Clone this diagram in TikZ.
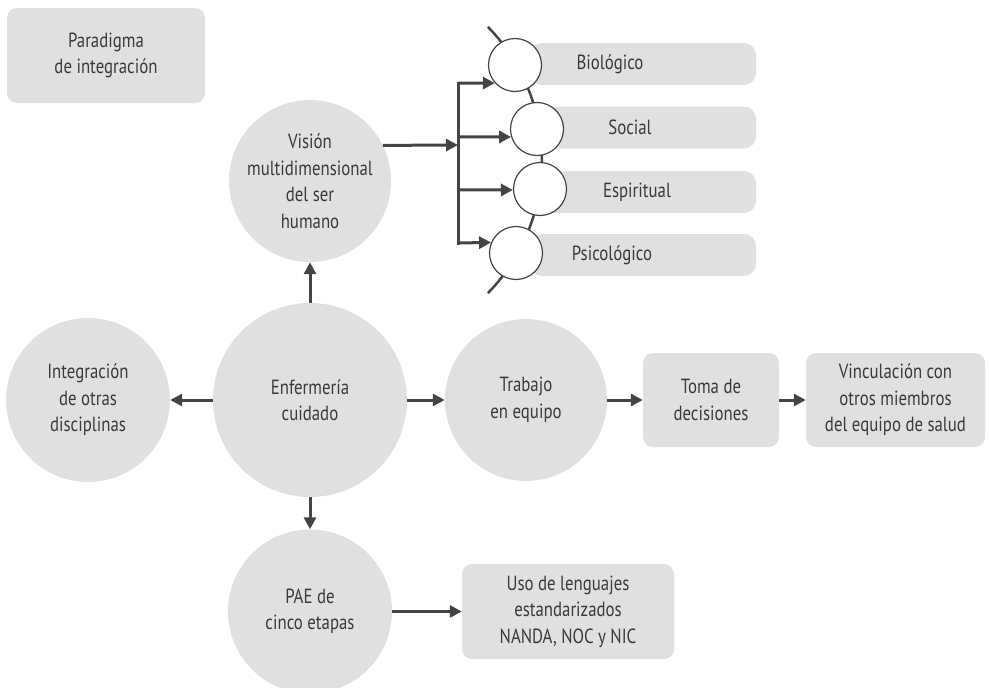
\documentclass[tikz,border=0pt]{standalone}
\usepackage{fontspec}
\setmainfont{PT Sans}[FakeStretch=0.82]
\usetikzlibrary{arrows.meta}
\definecolor{fillg}{HTML}{E0E0E0}
\definecolor{txt}{HTML}{3A3A3A}
\definecolor{arr}{HTML}{444444}
\begin{document}
\begin{tikzpicture}[x=1pt,y=-1pt,
  every node/.style={font=\fontsize{20.5}{26.5}\selectfont, text=txt, align=center},
  bubble/.style={circle, fill=fillg, inner sep=0pt},
  box/.style={rectangle, rounded corners=10pt, fill=fillg, inner sep=0pt},
  strip/.style={rectangle, rounded corners=12pt, fill=fillg, minimum width=226pt, minimum height=42pt, inner sep=0pt},
  ink/.style={draw=arr, line width=3pt, -{Triangle[length=12pt,width=12pt]}},
  bar/.style={draw=arr, line width=3pt, line cap=rect},
  ring/.style={circle, draw=arr, line width=1.2pt, fill=white, minimum size=53pt, inner sep=0pt},
  ]
\useasboundingbox (0,0) rectangle (989,688);

% main nodes
\node[box, minimum width=198pt, minimum height=95pt] (parad) at (106,55.5) {Paradigma\\de integración};
\node[bubble, minimum size=162pt] (vision) at (310,181) {Visión\\multidimensional\\del ser\\humano};
\node[bubble, minimum size=194pt] (enf) at (310,400) {Enfermería\\cuidado};
\node[bubble, minimum size=164pt] (integ) at (88,400) {Integración\\de otras\\disciplinas};
\node[bubble, minimum size=162pt] (trab) at (526,400) {Trabajo\\en equipo};
\node[box, minimum width=136pt, minimum height=94pt] (toma) at (711,400) {Toma de\\decisiones};
\node[box, minimum width=179pt, minimum height=94pt] (vinc) at (895.5,400) {Vinculación con\\otros miembros\\del equipo de salud};
\node[bubble, minimum size=164pt] (pae) at (310,611.5) {PAE de\\cinco etapas};
\node[box, minimum width=212pt, minimum height=95pt] (uso) at (568,611.5) {Uso de lenguajes\\estandarizados\\NANDA, NOC y NIC};

% dimension strips
\node[strip] (sbio) at (643,64) {};
\node[strip] (ssoc) at (643,127.5) {};
\node[strip] (sesp) at (643,192) {};
\node[strip] (spsi) at (643,255) {};

% arc behind the rings
\draw[draw=arr, line width=2.5pt] plot[domain=-44.2:44.2, samples=60] ({351+191*cos(\x)}, {160+191*sin(\x)});

% rings
\node[ring] (rbio) at (515,65) {};
\node[ring] (rsoc) at (537,129) {};
\node[ring] (resp) at (540,189) {};
\node[ring] (rpsi) at (516,253) {};

% strip labels
\node (tbio) at (610,64) {Biológico};
\node (tsoc) at (630,127.5) {Social};
\node (tesp) at (637,192) {Espiritual};
\node (tpsi) at (612,255) {Psicológico};

% bracket
\coordinate (bx) at (458,145);
\coordinate (btop) at (458,83);
\coordinate (bsoc) at (458,137);
\coordinate (besp) at (458,190);
\coordinate (bbot) at (458,243);
\draw[bar] (btop) -- (bbot);
\draw[ink] (vision.26.4) -- (bx);
\draw[ink] (btop) -- (rbio.222.8);
\draw[ink] (bsoc) -- (rsoc.197.9);
\draw[ink] (besp) -- (resp.182.2);
\draw[ink] (bbot) -- (rpsi.157.8);

% connectors
\draw[ink] (enf.north) -- (vision.south);
\draw[ink] (enf.west) -- (integ.east);
\draw[ink] (enf.east) -- (trab.west);
\draw[ink] (trab.east) -- (toma.west);
\draw[ink] (toma.east) -- (vinc.west);
\draw[ink] (enf.south) -- (pae.north);
\draw[ink] (pae.east) -- (uso.west);
\end{tikzpicture}
\end{document}
